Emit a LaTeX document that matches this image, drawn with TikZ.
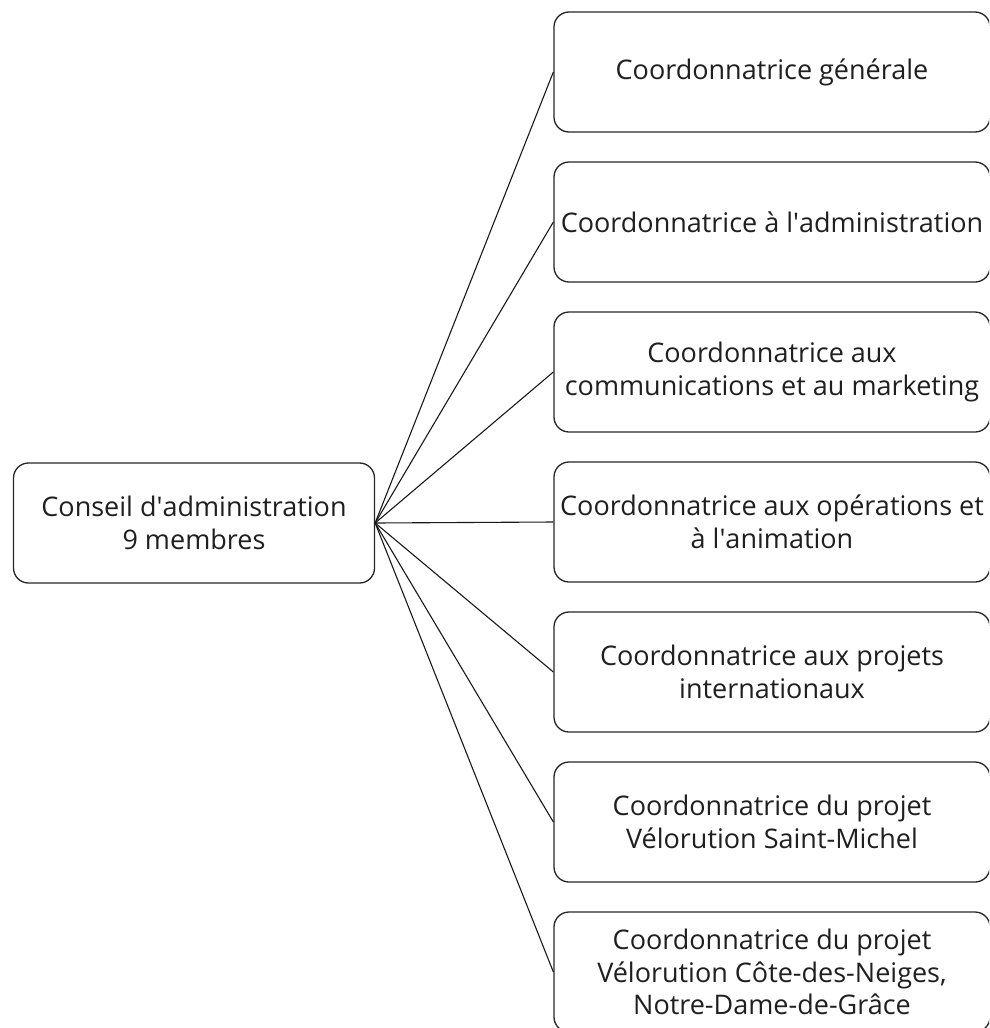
\documentclass[tikz,border=0pt]{standalone}
\usepackage{fontspec}
\setmainfont{Open Sans}
\newcommand{\ap}{\textquotesingle}
\begin{document}
\begin{tikzpicture}[x=1pt,y=-1pt,
  box/.style={draw=black!85,line width=1.3pt,rounded corners=15pt,align=center,
    font=\fontsize{27}{32.5}\selectfont,text=black!88,inner sep=0pt},
  link/.style={draw=black!90,line width=1.1pt}]
\useasboundingbox (0,0) rectangle (989,1028);
\begin{scope}
\clip (0,0) rectangle (989,1028);
\node[box,minimum width=361pt,minimum height=120pt] (ca) at (194,523) {Conseil d\ap administration\\9 membres};
\foreach \i/\t in {0/{Coordonnatrice générale},
  1/{Coordonnatrice à l\ap administration},
  2/{Coordonnatrice aux\\communications et au marketing},
  3/{Coordonnatrice aux opérations et\\à l\ap animation},
  4/{Coordonnatrice aux projets\\internationaux},
  5/{Coordonnatrice du projet\\Vélorution Saint-Michel},
  6/{Coordonnatrice du projet\\Vélorution Côte-des-Neiges,\\Notre-Dame-de-Grâce}}{
  \node[box,minimum width=436pt,minimum height=120pt] (c\i) at (772,72+150*\i) {\t};
  \draw[link] (ca.east) -- (c\i.west);
}
\end{scope}
\end{tikzpicture}
\end{document}
